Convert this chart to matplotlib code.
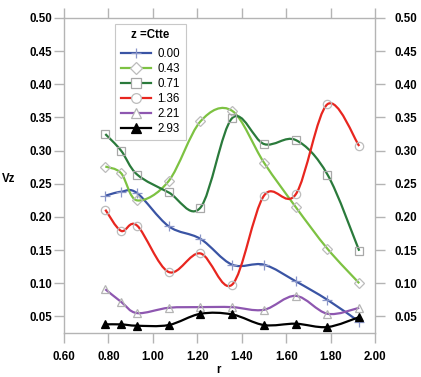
import numpy as np
import matplotlib
matplotlib.use("Agg")
import matplotlib.pyplot as plt
import matplotlib.transforms as mtransforms
from matplotlib.path import Path
from matplotlib.patches import PathPatch
from matplotlib.lines import Line2D
from matplotlib.ticker import FormatStrFormatter

plt.rcParams['font.family'] = ['Liberation Sans', 'DejaVu Sans']

r = [0.786, 0.857, 0.929, 1.071, 1.214, 1.357, 1.500, 1.643, 1.786, 1.929]
labels = ["0.00", "0.43", "0.71", "1.36", "2.21", "2.93"]
vz_000 = [0.232, 0.238, 0.236, 0.186, 0.167, 0.128, 0.128, 0.103, 0.075, 0.042]
vz_043 = [0.276, 0.266, 0.225, 0.254, 0.344, 0.360, 0.282, 0.215, 0.152, 0.100]
vz_071 = [0.325, 0.300, 0.264, 0.237, 0.214, 0.349, 0.310, 0.316, 0.264, 0.149]
vz_136 = [0.211, 0.179, 0.187, 0.117, 0.145, 0.098, 0.232, 0.234, 0.370, 0.307]
vz_221 = [0.091, 0.072, 0.055, 0.063, 0.064, 0.064, 0.060, 0.081, 0.054, 0.063]
vz_293 = [0.038, 0.038, 0.036, 0.037, 0.054, 0.053, 0.037, 0.039, 0.034, 0.049]
series = [vz_000, vz_043, vz_071, vz_136, vz_221, vz_293]

colors = ['#3a54a4', '#7dc242', '#2a7a3b', '#e8261f', '#8e57b0', '#000000']
markers = ['+', 'D', 's', 'o', '^', '^']
msizes = [6.5, 4.8, 6.0, 6.0, 6.0, 5.8]
mfc = ['none', 'none', 'none', 'none', 'none', '#000000']
mec = ['#8a96c8', '#bcbcbc', '#a8a8a8', '#bcbcbc', '#b4b4b4', '#000000']

FS = 8.3

fig = plt.figure(figsize=(4.21, 3.77), dpi=100)
ax = fig.add_axes([64/421, 1-333/377, (375-64)/421, (333-18)/377])


def smooth_path(x, y):
    x = np.asarray(x, float); y = np.asarray(y, float)
    n = len(x)
    px = np.concatenate([[x[0]], x, [x[-1]]])
    py = np.concatenate([[y[0]], y, [y[-1]]])
    verts = [(x[0], y[0])]
    codes = [Path.MOVETO]
    for i in range(n - 1):
        j = i + 1
        c1 = (px[j] + (px[j+1] - px[j-1]) / 6, py[j] + (py[j+1] - py[j-1]) / 6)
        c2 = (px[j+1] - (px[j+2] - px[j]) / 6, py[j+1] - (py[j+2] - py[j]) / 6)
        verts += [c1, c2, (x[i+1], y[i+1])]
        codes += [Path.CURVE4] * 3
    return Path(verts, codes)


handles = []
for k, ys in enumerate(series):
    ax.add_patch(PathPatch(smooth_path(r, ys), facecolor='none',
                           edgecolor=colors[k], lw=1.6, zorder=2))
    ax.plot(r, ys, linestyle='none', marker=markers[k], ms=msizes[k],
            mfc=mfc[k], mec=mec[k], mew=0.9, zorder=3)
    handles.append(Line2D([], [], color=colors[k], lw=1.6, marker=markers[k],
                          ms=msizes[k] + 1, mfc=mfc[k] if k == 5 else 'white',
                          mec=mec[k], mew=0.9))

ax.set_xlim(0.6, 2.0)
ax.set_ylim(0.025, 0.50)
ax.set_xticks(np.arange(0.6, 2.01, 0.2))
ax.set_yticks(np.arange(0.05, 0.501, 0.05))
ax.xaxis.set_major_formatter(FormatStrFormatter('%.2f'))
ax.yaxis.set_major_formatter(FormatStrFormatter('%.2f'))

gray = '#b4b4b4'
for s in ax.spines.values():
    s.set_color(gray)
    s.set_linewidth(1.0)
ax.tick_params(axis='both', which='major', direction='out', length=7.5,
               color=gray, width=1.0, labelsize=FS)
ax.tick_params(axis='x', top=True, pad=5.5)
ax.tick_params(axis='y', right=True, labelright=True, pad=1.2)
for tick in ax.xaxis.get_major_ticks():
    tick.label1.set_fontweight('bold')
offset = mtransforms.ScaledTranslation(5/72, 0, fig.dpi_scale_trans)
for tick in ax.yaxis.get_major_ticks():
    tick.label1.set_fontweight('bold')
    tick.label2.set_fontweight('bold')
    tick.label2.set_transform(tick.label2.get_transform() + offset)

ax.set_xlabel('r', fontweight='bold', fontsize=FS)
ax.xaxis.set_label_coords((218-64)/311, -(364-333)/315)
ax.set_ylabel('Vz', fontweight='bold', fontsize=FS, rotation=0,
              ha='center', va='center')
ax.yaxis.set_label_coords(-(64-9)/311, (333-179)/315)

LS = 0.26
leg = ax.legend(handles, labels, title='z =Ctte', loc='upper left',
                bbox_to_anchor=((115-64)/311, 1-(23.5-18)/315),
                fontsize=FS, title_fontproperties={'weight': 'bold', 'size': FS},
                handlelength=2.6, handletextpad=0.6, labelspacing=LS,
                borderpad=0.5, fancybox=False, framealpha=1, borderaxespad=0)
leg._legend_box.sep = LS * FS + 2.5
leg.get_frame().set_edgecolor('#c8c8c8')
leg.get_frame().set_linewidth(0.8)

fig.savefig('out.png', dpi=100)
